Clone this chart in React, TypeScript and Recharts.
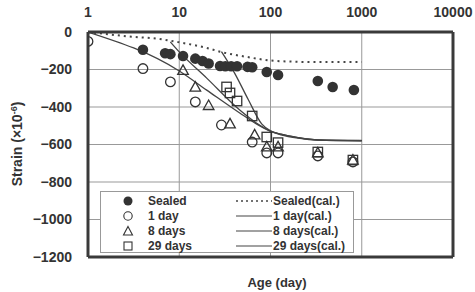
import {
  ComposedChart,
  Line,
  Scatter,
  XAxis,
  YAxis,
  CartesianGrid,
  ReferenceLine,
} from "recharts";

// axis ticks
const X_TICKS = [1, 10, 100, 1000, 10000];
const Y_TICKS = [0, -200, -400, -600, -800, -1000, -1200];

const sealedAge = [4, 7, 8, 11, 15, 18, 21, 28, 32, 37, 43, 56, 63, 91, 121, 330, 480, 820];
const sealedStrain = [-95, -113, -118, -128, -142, -155, -168, -181, -183, -183, -183, -186, -188, -213, -229, -261, -293, -309];

const oneDayAge = [1, 4, 8, 15, 29, 63, 91, 121, 330, 800];
const oneDayStrain = [-50, -195, -266, -373, -496, -587, -645, -645, -661, -693];

const eightDayAge = [11, 15, 21, 36, 67, 91, 121, 330, 800];
const eightDayStrain = [-205, -294, -392, -490, -549, -613, -613, -645, -683];

const twentyNineAge = [33, 36, 43, 63, 91, 121, 330, 800];
const twentyNineStrain = [-293, -325, -368, -448, -560, -590, -640, -683];

// calculated curves
const sealedCalAge = [1, 3, 6, 10, 20, 28, 55, 100, 150, 300, 1000];
const sealedCalStrain = [0, -25, -37, -55, -85, -105, -133, -152, -157, -160, -160];

const oneDayCalAge = [1, 10, 20, 46, 70, 100, 130, 200, 330, 1000];
const oneDayCalStrain = [0, -208, -310, -432, -490, -530, -548, -566, -577, -580];

const eightDayCalAge = [8, 10, 20, 46, 70, 100, 130, 200, 330, 1000];
const eightDayCalStrain = [-53, -106, -246, -416, -485, -528, -545, -563, -575, -578];

const twentyNineCalAge = [29, 40, 57, 80, 100, 130, 200, 330, 1000];
const twentyNineCalStrain = [-105, -215, -360, -490, -527, -545, -563, -576, -580];

const pts = (xs: number[], ys: number[]) => xs.map((x, i) => ({ x, y: ys[i] }));

const INK = "#333";
const FONT = "'Liberation Sans', Arial, sans-serif";

const FilledDot = ({ cx, cy }: any) => <circle cx={cx} cy={cy} r={5.3} fill={INK} />;
const OpenCircle = ({ cx, cy }: any) => (
  <circle cx={cx} cy={cy} r={4.8} fill="none" stroke={INK} strokeWidth={1.3} />
);
const OpenTri = ({ cx, cy }: any) => (
  <polygon
    points={`${cx},${cy - 5.5} ${cx + 5.3},${cy + 4} ${cx - 5.3},${cy + 4}`}
    fill="none"
    stroke={INK}
    strokeWidth={1.3}
  />
);
const OpenSquare = ({ cx, cy }: any) => (
  <rect x={cx - 4.7} y={cy - 4.7} width={9.4} height={9.4} fill="none" stroke={INK} strokeWidth={1.3} />
);

const fmt = (v: number) => String(v).replace("-", "\u2212");

const legendLeft = [
  { label: "Sealed", mark: <circle cx={6} cy={6} r={4.5} fill={INK} /> },
  { label: "1 day", mark: <circle cx={6} cy={6} r={4.2} fill="none" stroke={INK} strokeWidth={1.1} /> },
  { label: "8 days", mark: <polygon points="6,1.5 10.5,10 1.5,10" fill="none" stroke={INK} strokeWidth={1.1} /> },
  { label: "29 days", mark: <rect x={2} y={2} width={8} height={8} fill="none" stroke={INK} strokeWidth={1.1} /> },
];
const legendRight = [
  { label: "Sealed(cal.)", dash: "2 3" },
  { label: "1 day(cal.)", dash: undefined },
  { label: "8 days(cal.)", dash: undefined },
  { label: "29 days(cal.)", dash: undefined },
];

export default function App() {
  return (
    <div style={{ position: "absolute", left: 0, top: 0, width: 475, height: 292, fontFamily: FONT, background: "#fff" }}>
      <ComposedChart width={475} height={292} margin={{ top: 7, right: 22, bottom: 35, left: 10 }}>
        <CartesianGrid stroke="#999" strokeWidth={1} />
        <XAxis
          type="number"
          dataKey="x"
          scale="log"
          domain={[1, 10000]}
          ticks={X_TICKS}
          orientation="top"
          height={25}
          allowDataOverflow
          tickLine={false}
          tickSize={0}
          tickMargin={15}
          axisLine={{ stroke: "#3a3a3a", strokeWidth: 3 }}
          tick={{ fill: INK, fontSize: 14, fontWeight: "bold", fontFamily: FONT }}
        />
        <YAxis
          type="number"
          dataKey="y"
          domain={[-1200, 0]}
          ticks={Y_TICKS}
          width={78}
          tickLine={false}
          tickSize={0}
          tickMargin={16}
          tickFormatter={fmt}
          axisLine={{ stroke: "#3a3a3a", strokeWidth: 3 }}
          tick={{ fill: INK, fontSize: 14, fontWeight: "bold", fontFamily: FONT }}
        />
        <ReferenceLine x={10000} stroke="#3a3a3a" strokeWidth={3} />
        <ReferenceLine y={-1200} stroke="#3a3a3a" strokeWidth={3} />

        <Line data={pts(sealedCalAge, sealedCalStrain)} dataKey="y" type="monotone" stroke="#444" strokeWidth={2} strokeDasharray="2 4" dot={false} isAnimationActive={false} />
        <Line data={pts(oneDayCalAge, oneDayCalStrain)} dataKey="y" type="monotone" stroke="#444" strokeWidth={1.3} dot={false} isAnimationActive={false} />
        <Line data={pts(eightDayCalAge, eightDayCalStrain)} dataKey="y" type="monotone" stroke="#444" strokeWidth={1.3} dot={false} isAnimationActive={false} />
        <Line data={pts(twentyNineCalAge, twentyNineCalStrain)} dataKey="y" type="monotone" stroke="#444" strokeWidth={1.3} dot={false} isAnimationActive={false} />

        <Scatter data={pts(sealedAge, sealedStrain)} shape={FilledDot} isAnimationActive={false} />
        <Scatter data={pts(oneDayAge, oneDayStrain)} shape={OpenCircle} isAnimationActive={false} />
        <Scatter data={pts(eightDayAge, eightDayStrain)} shape={OpenTri} isAnimationActive={false} />
        <Scatter data={pts(twentyNineAge, twentyNineStrain)} shape={OpenSquare} isAnimationActive={false} />
      </ComposedChart>

      {/* legend box */}
      <div
        style={{
          position: "absolute",
          left: 100,
          top: 191,
          width: 254,
          height: 62,
          boxSizing: "border-box",
          border: "1px solid #999",
          background: "#fff",
          fontSize: 12,
          fontWeight: "bold",
          color: INK,
        }}
      >
        {legendLeft.map((it, i) => (
          <div key={it.label} style={{ position: "absolute", left: 21, top: 1 + i * 15.3, height: 15, display: "flex", alignItems: "center" }}>
            <svg width={12} height={12}>{it.mark}</svg>
            <span style={{ marginLeft: 14 }}>{it.label}</span>
          </div>
        ))}
        {legendRight.map((it, i) => (
          <div key={it.label} style={{ position: "absolute", left: 135, top: 1 + i * 15.3, height: 15, display: "flex", alignItems: "center" }}>
            <svg width={36} height={4}>
              <line x1={0} y1={2} x2={36} y2={2} stroke="#444" strokeWidth={it.dash ? 1.5 : 1.2} strokeDasharray={it.dash} />
            </svg>
            <span style={{ marginLeft: 1 }}>{it.label}</span>
          </div>
        ))}
      </div>

      {/* axis titles */}
      <div
        style={{
          position: "absolute",
          left: 17,
          top: 144,
          transform: "translate(-50%, -50%) rotate(-90deg)",
          whiteSpace: "nowrap",
          fontSize: 14,
          fontWeight: "bold",
          color: INK,
        }}
      >
        Strain (×10<sup style={{ fontSize: 9 }}>-6</sup>)
      </div>
      <div
        style={{
          position: "absolute",
          left: 277,
          top: 282,
          transform: "translate(-50%, -50%)",
          whiteSpace: "nowrap",
          fontSize: 13,
          fontWeight: "bold",
          color: INK,
        }}
      >
        Age (day)
      </div>
    </div>
  );
}
